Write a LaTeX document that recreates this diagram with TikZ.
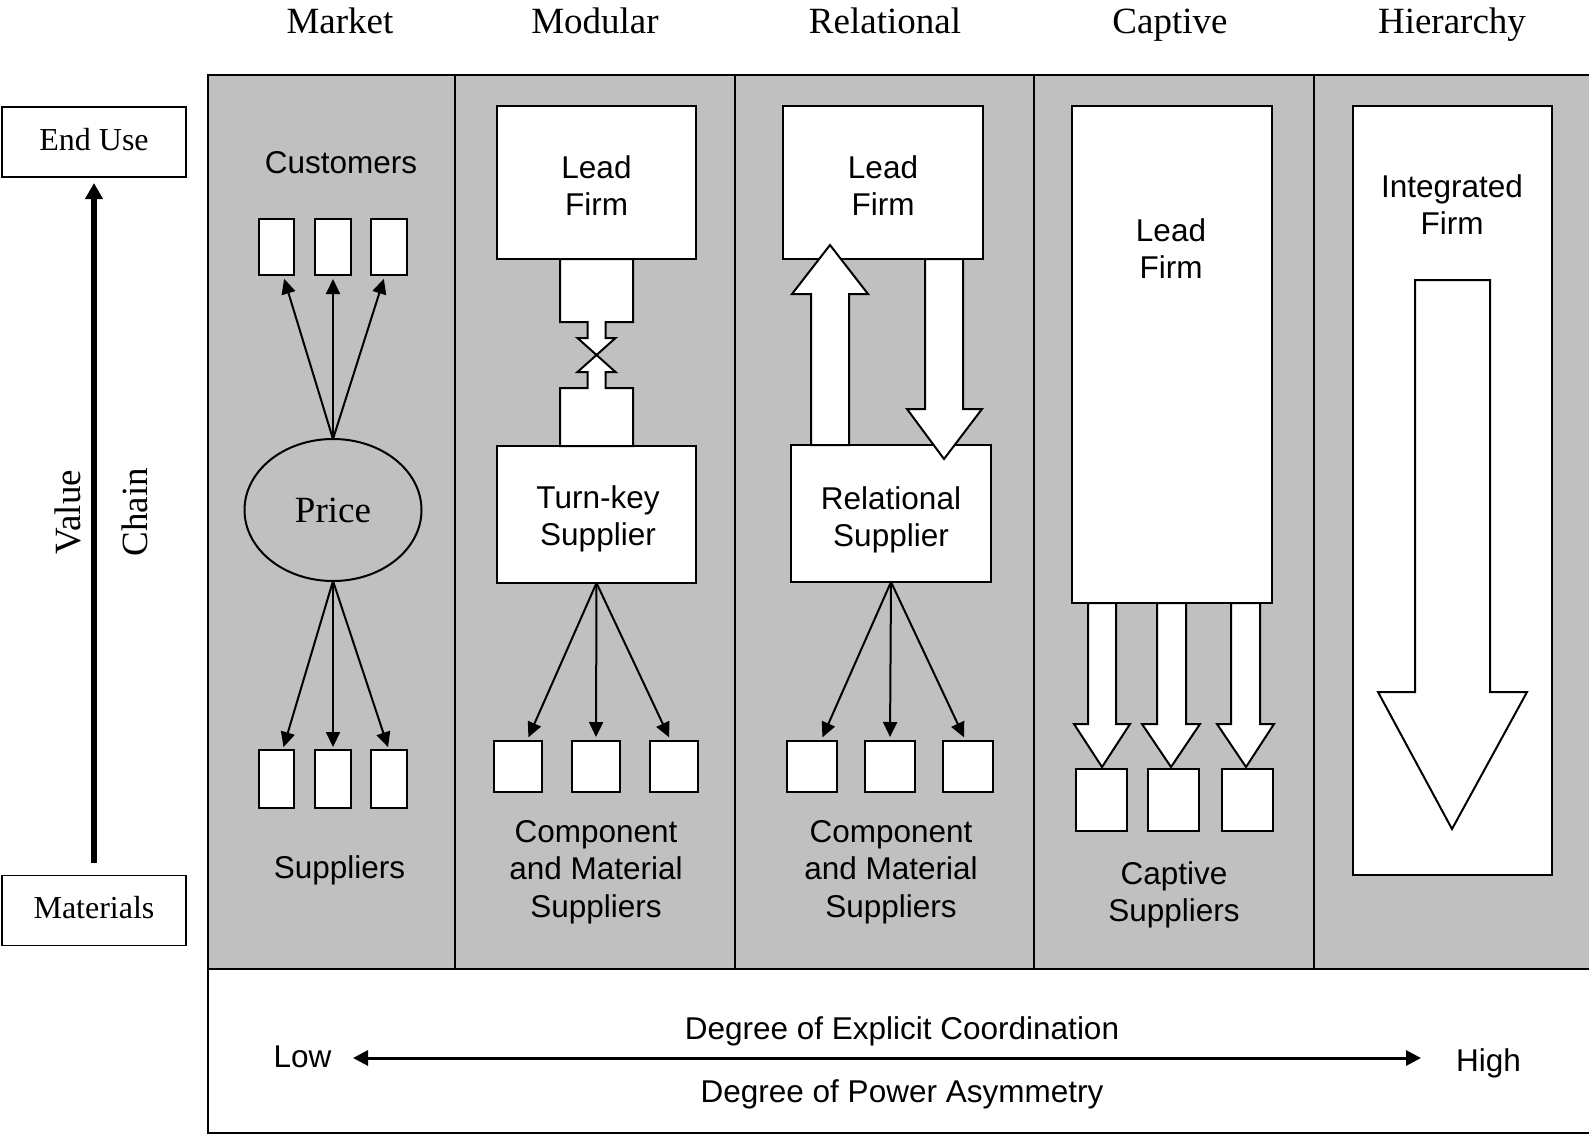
\documentclass[tikz,border=0pt]{standalone}
\usepackage{fontspec}
\setmainfont{Liberation Serif}
\setsansfont{Liberation Sans}
\usetikzlibrary{arrows.meta,shapes.geometric}
\definecolor{panel}{RGB}{192,192,192}
% line strut: height + depth equals the baselineskip of the label font
\newcommand{\lstrut}{\rule[-9pt]{0pt}{37.5pt}}

\begin{document}
\begin{tikzpicture}[x=1pt,y=-1pt,
  every node/.style={inner sep=0pt, outer sep=0pt},
  frame/.style={line width=2pt},
  firmbox/.style={draw, fill=white, line width=2pt},
  tagbox/.style={draw, fill=white, line width=1.6pt, minimum width=184pt,
    minimum height=70pt, font=\fontsize{32}{38}\selectfont,
    text height=24pt, text depth=8pt},
  sanslabel/.style={font=\sffamily\fontsize{31.5}{37.5}\selectfont, align=center},
  headlabel/.style={font=\fontsize{37}{44}\selectfont, anchor=base},
  thinarrow/.style={line width=2pt, -{Triangle[length=15pt,width=14pt]}},
  blockarrow/.style={draw, fill=white, line width=2pt, line join=miter},
]
\useasboundingbox (0,0) rectangle (1589,1135);

% ---------- panel and column frame ----------
\fill[panel] (208,75) rectangle (1600,969);
\draw[frame] (1600,75) -- (208,75) -- (208,1133) -- (1600,1133);
\draw[frame] (208,969) -- (1600,969);
\foreach \x in {455,735,1034,1314} \draw[frame] (\x,75) -- (\x,969);

% ---------- column headings ----------
\node[headlabel] (hmarket)   at (340,33)  {Market};
\node[headlabel] (hmodular)  at (595,33)  {Modular};
\node[headlabel] (hrelation) at (885,33)  {Relational};
\node[headlabel] (hcaptive)  at (1170,33) {Captive};
\node[headlabel] (hhier)     at (1452,33) {Hierarchy};

% ---------- value chain axis ----------
\node[tagbox] (enduse)    at (94,142)   {End Use};
\node[tagbox] (materials) at (94,910.5) {Materials};
\draw[line width=5.5pt, -{Triangle[length=16pt,width=17pt]}]
  ([yshift=13pt]materials.north) -- ([yshift=-6pt]enduse.south);
\node[font=\fontsize{37}{44}\selectfont, rotate=90, anchor=base] (value) at (80,512) {Value};
\node[font=\fontsize{37}{44}\selectfont, rotate=90, anchor=base] (chain) at (147,512) {Chain};

% ---------- market ----------
\node[sanslabel, anchor=base] (customers) at (341,173.5) {Customers};
\foreach \i/\x in {1/276.5,2/333,3/389} {
  \node[firmbox, minimum width=35.5pt, minimum height=56pt] (c\i) at (\x,247) {};
  \node[firmbox, minimum width=35.5pt, minimum height=58pt] (s\i) at (\x,779) {};
}
\node[draw, ellipse, line width=2pt, minimum width=177pt, minimum height=142pt,
  font=\fontsize{37}{44}\selectfont] (price) at (333,510) {Price};
\draw[thinarrow, shorten >=4pt] (price.north) -- (c1.-77);
\draw[thinarrow, shorten >=4pt] (price.north) -- (c2.south);
\draw[thinarrow, shorten >=4pt] (price.north) -- (c3.-98);
\draw[thinarrow, shorten >=3pt] (price.south) -- (s1.78);
\draw[thinarrow, shorten >=3pt] (price.south) -- (s2.north);
\draw[thinarrow, shorten >=3pt] (price.south) -- (s3.north);
\node[sanslabel, anchor=base] (msuppliers) at (339.5,878) {Suppliers};

% ---------- modular ----------
\node[firmbox, minimum width=199pt, minimum height=153pt] (modlead) at (596.5,182.5) {};
\node[firmbox, minimum width=199pt, minimum height=137pt] (turnkey) at (596.5,514.5) {};
\node[sanslabel, anchor=north] (modleadtxt) at (596.5,149.5) {\lstrut Lead\\\lstrut Firm};
\node[sanslabel, anchor=north] (turnkeytxt) at (598,479.5) {\lstrut Turn-key\\\lstrut Supplier};
% interface between lead firm and turn-key supplier
\draw[blockarrow] (560,259) -- (633,259) -- (633,322) -- (605.5,322) -- (605.5,338)
  -- (615.5,338) -- (596.5,355) -- (577.5,338) -- (587.5,338) -- (587.5,322)
  -- (560,322) -- cycle;
\draw[blockarrow] (560,446) -- (633,446) -- (633,388) -- (605.5,388) -- (605.5,372)
  -- (615.5,372) -- (596.5,355) -- (577.5,372) -- (587.5,372) -- (587.5,388)
  -- (560,388) -- cycle;
\foreach \i/\x in {1/518,2/596,3/674}
  \node[firmbox, minimum width=48pt, minimum height=51pt] (m\i) at (\x,766.5) {};
\draw[thinarrow, shorten >=4pt] (turnkey.south) -- (m1.71);
\draw[thinarrow, shorten >=4pt] (turnkey.south) -- (m2.north);
\draw[thinarrow, shorten >=4pt] (turnkey.south) -- (m3.97);
\node[sanslabel, anchor=north] (modsup) at (596,813.5)
  {\lstrut Component\\\lstrut and Material\\\lstrut Suppliers};

% ---------- relational ----------
\node[firmbox, minimum width=200pt, minimum height=153pt] (rellead) at (883,182.5) {};
\node[firmbox, minimum width=200pt, minimum height=137pt] (relsup) at (891,513.5) {};
\node[sanslabel, anchor=north] (relleadtxt) at (883,149.5) {\lstrut Lead\\\lstrut Firm};
\node[sanslabel, anchor=north] (relsuptxt) at (891,480.5) {\lstrut Relational\\\lstrut Supplier};
% mutual exchange between lead firm and relational supplier
\draw[blockarrow] (811,445) -- (811,294) -- (792,294) -- (830,245) -- (868,294)
  -- (849,294) -- (849,445) -- cycle;
\draw[blockarrow] (925,259) -- (963,259) -- (963,409) -- (982,409) -- (944,459)
  -- (907,409) -- (925,409) -- cycle;
\foreach \i/\x in {1/812,2/890,3/968}
  \node[firmbox, minimum width=49.5pt, minimum height=51pt] (r\i) at (\x,766.5) {};
\draw[thinarrow, shorten >=4pt] (relsup.south) -- (r1.71);
\draw[thinarrow, shorten >=4pt] (relsup.south) -- (r2.north);
\draw[thinarrow, shorten >=4pt] (relsup.south) -- (r3.95);
\node[sanslabel, anchor=north] (relsupp) at (891,813.5)
  {\lstrut Component\\\lstrut and Material\\\lstrut Suppliers};

% ---------- captive ----------
\node[firmbox, minimum width=200pt, minimum height=497pt] (caplead) at (1172,354.5) {};
\node[sanslabel, anchor=north] (capleadtxt) at (1171,212.5) {\lstrut Lead\\\lstrut Firm};
\foreach \xl/\xr/\wl/\wr/\tx in {1088/1116/1074/1130/1102,
                                  1157/1186/1142/1200/1171,
                                  1231/1260/1217/1274/1246}
  \draw[blockarrow] (\xl,603) -- (\xr,603) -- (\xr,724) -- (\wr,724) -- (\tx,767)
    -- (\wl,724) -- (\xl,724) -- cycle;
\foreach \i/\x in {1/1101.5,2/1173,3/1247.5}
  \node[firmbox, minimum width=51pt, minimum height=62pt] (k\i) at (\x,800) {};
\node[sanslabel, anchor=north] (capsup) at (1174,855.5) {\lstrut Captive\\\lstrut Suppliers};

% ---------- hierarchy ----------
\node[firmbox, minimum width=199pt, minimum height=769pt] (intfirm) at (1452.5,490.5) {};
\node[sanslabel, anchor=north] (intfirmtxt) at (1452,168.5) {\lstrut Integrated\\\lstrut Firm};
\draw[blockarrow] (1415,280) -- (1490,280) -- (1490,692) -- (1527,692) -- (1452,829)
  -- (1378,692) -- (1415,692) -- cycle;

% ---------- coordination scale ----------
\node[sanslabel, anchor=base] (explicit) at (902,1039) {Degree of Explicit Coordination};
\node[sanslabel, anchor=base] (power) at (902,1102) {Degree of Power Asymmetry};
\node[sanslabel, anchor=base] (low) at (302.5,1067) {Low};
\node[sanslabel, anchor=base] (high) at (1488.5,1071) {High};
\coordinate (lowend) at (353,1058);
\coordinate (highend) at (1421,1058);
\draw[line width=3pt, {Triangle[length=15pt,width=15pt]}-{Triangle[length=15pt,width=15pt]}]
  (lowend) -- (highend);
\end{tikzpicture}
\end{document}
